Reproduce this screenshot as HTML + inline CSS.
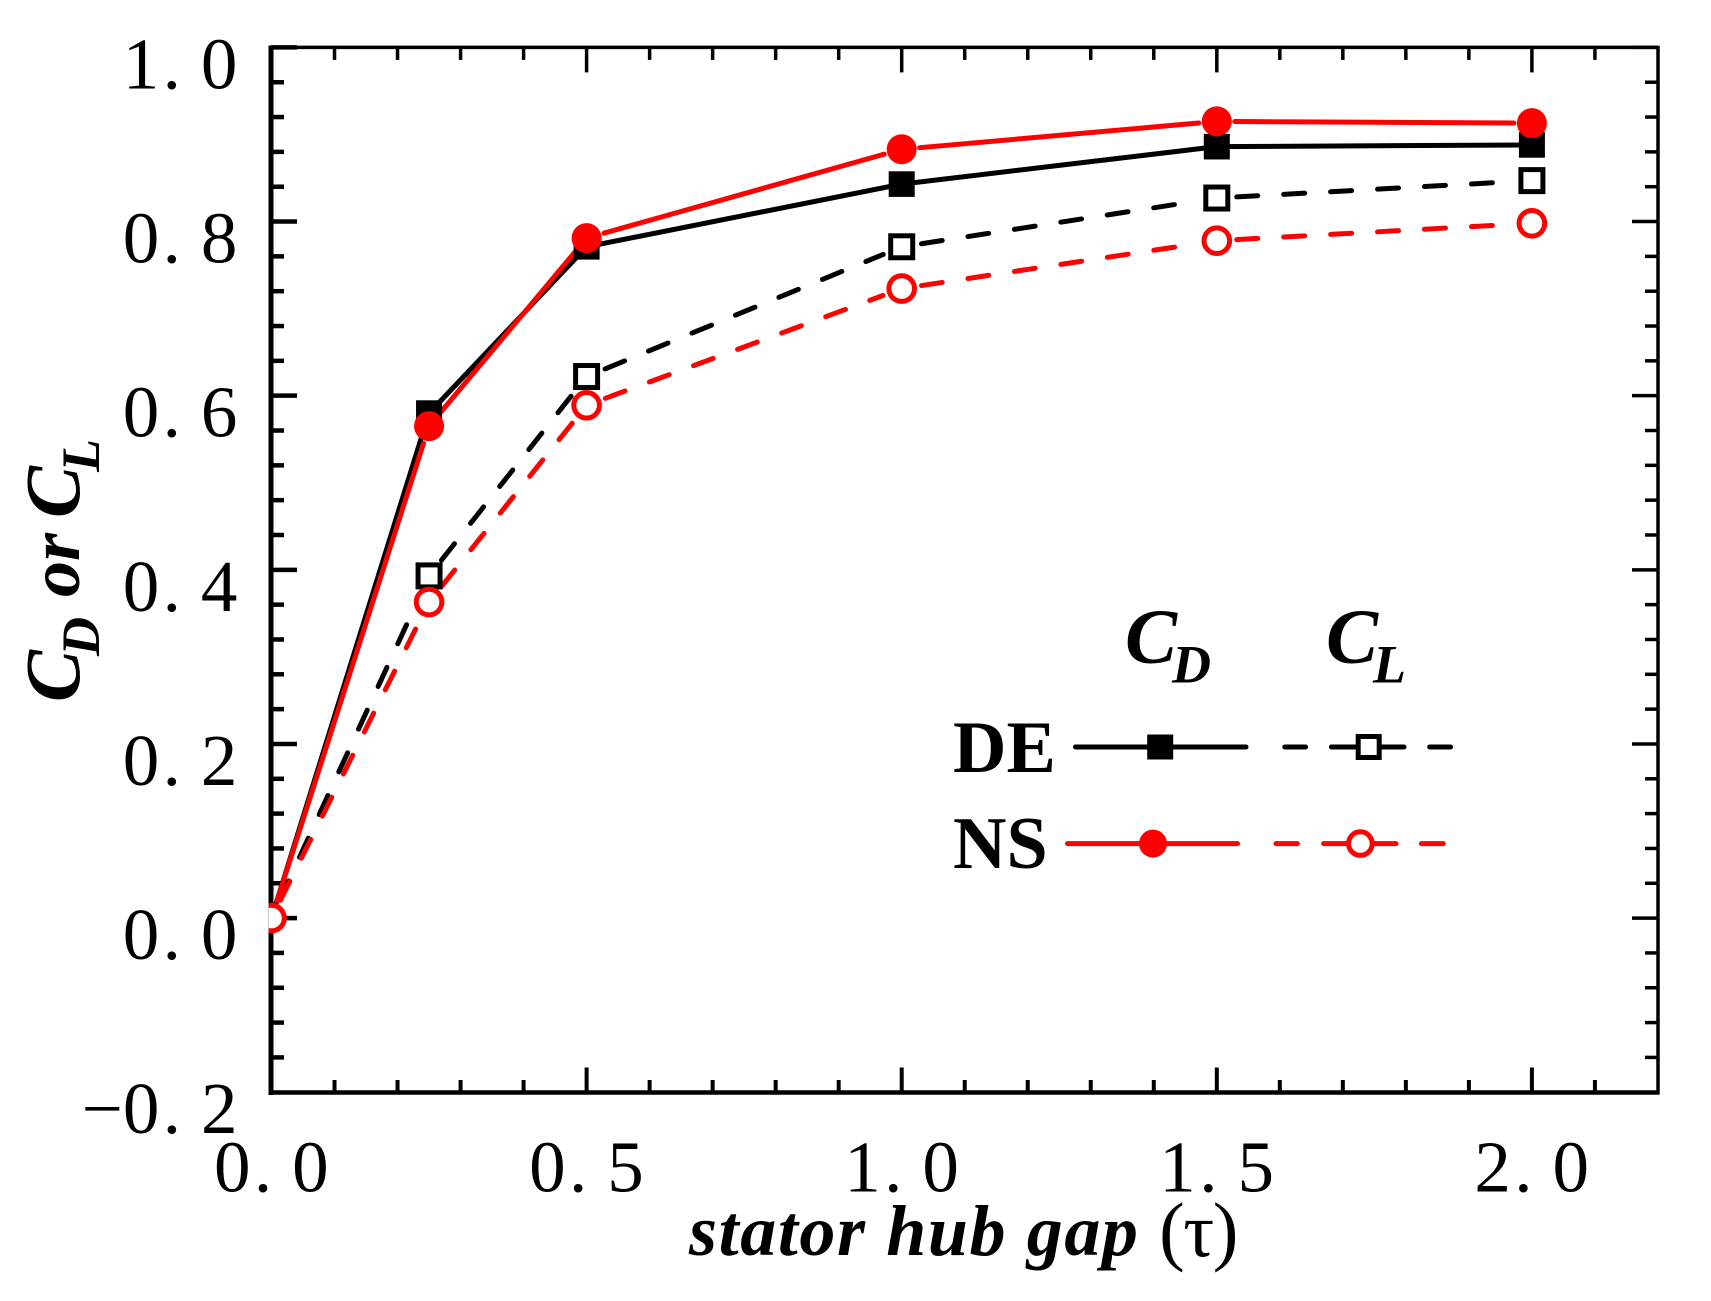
<!DOCTYPE html>
<html lang="en">
<head>
<meta charset="utf-8">
<title>Stator hub gap chart</title>
<style>
html,body{margin:0;padding:0;background:#fff;}
svg{display:block;}
text{font-family:"Liberation Serif",serif;fill:#000;}
.bi{font-weight:bold;font-style:italic;}
</style>
</head>
<body>
<svg id="chart" xmlns="http://www.w3.org/2000/svg" width="1711" height="1301" viewBox="0 0 1711 1301">
  <rect x="0" y="0" width="1711" height="1301" fill="#fff"/>
  <defs>
    <clipPath id="plot-clip"><rect x="268.7" y="40" width="1395" height="1060"/></clipPath>
  </defs>
  <g id="ticks"></g>
  <g stroke="#000" fill="none">
    <line x1="271" y1="45.5" x2="271" y2="1095" stroke-width="5"/>
    <line x1="270" y1="1092.5" x2="1659.5" y2="1092.5" stroke-width="4.5"/>
    <line x1="271" y1="47.4" x2="1659.5" y2="47.4" stroke-width="3.5"/>
    <line x1="1658" y1="46" x2="1658" y2="1094" stroke-width="3.5"/>
  </g>
  <g id="series" clip-path="url(#plot-clip)"></g>
  <g id="labels" font-size="73"></g>

  <text x="689" y="1255" font-size="72"><tspan class="bi" letter-spacing="1.6">stator hub gap </tspan><tspan font-size="77" dy="1" letter-spacing="-1.5">(τ)</tspan></text>
  <text class="bi" font-size="72" transform="translate(79,702) rotate(-90)"><tspan font-size="78">C</tspan><tspan font-size="54" dy="20" dx="-6">D</tspan><tspan dy="-20" dx="2"> or </tspan><tspan font-size="78" dx="-3">C</tspan><tspan font-size="54" dy="20" dx="-6">L</tspan></text>

  <g>
    <text class="bi" x="1125" y="662.5" font-size="78">C<tspan font-size="54" dy="20" dx="-5">D</tspan></text>
    <text class="bi" x="1326" y="662.5" font-size="78">C<tspan font-size="54" dy="20" dx="-5">L</tspan></text>
    <text x="953" y="772" font-size="74" font-weight="bold">DE</text>
    <text x="953" y="868" font-size="74" font-weight="bold">NS</text>
    <g>
      <line x1="1075.5" y1="747" x2="1246" y2="747" stroke="#000" stroke-width="5" stroke-linecap="round"/>
      <rect x="1147.2" y="734.5" width="26" height="25" fill="#000"/>
    </g>
    <g stroke="#000" stroke-width="5" stroke-linecap="round">
      <line x1="1284.8" y1="747" x2="1305.6" y2="747"/>
      <line x1="1331.4" y1="747" x2="1404" y2="747"/>
      <line x1="1429.7" y1="747" x2="1450.5" y2="747"/>
      <rect x="1358.2" y="736.5" width="21" height="21" fill="#fff" stroke-linecap="butt"/>
    </g>
    <g>
      <line x1="1067.5" y1="843.6" x2="1237.5" y2="843.6" stroke="#f00" stroke-width="5" stroke-linecap="round"/>
      <circle cx="1153" cy="843.6" r="14" fill="#f00"/>
    </g>
    <g stroke="#f00" stroke-width="5" stroke-linecap="round">
      <line x1="1276" y1="843.6" x2="1297.4" y2="843.6"/>
      <line x1="1323.6" y1="843.6" x2="1396" y2="843.6"/>
      <line x1="1421.4" y1="843.6" x2="1443.3" y2="843.6"/>
      <circle cx="1360.4" cy="843.6" r="11.8" fill="#fff"/>
    </g>
  </g>
</svg>
<script>
const gaps = [0, 0.25, 0.5, 1, 1.5, 2];
const deCd = [0, 0.58, 0.771, 0.843, 0.886, 0.888];
const nsCd = [0, 0.565, 0.781, 0.883, 0.915, 0.913];
const deCl = [0, 0.393, 0.622, 0.771, 0.827, 0.847];
const nsCl = [0, 0.363, 0.589, 0.723, 0.778, 0.798];
const xTicks = [0, 0.5, 1, 1.5, 2];
const xTickLabels = ['0.0', '0.5', '1.0', '1.5', '2.0'];
const yTicks = [-0.2, 0, 0.2, 0.4, 0.6, 0.8, 1];
const yTickLabels = ['\u22120.2', '0.0', '0.2', '0.4', '0.6', '0.8', '1.0'];

const NS = 'http://www.w3.org/2000/svg';
function x(v) { return 271.5 + 630.2 * v; }
function y(v) { return 918.1 - 870.7 * v; }
function make(tag, attrs, parent) {
  const el = document.createElementNS(NS, tag);
  for (const k in attrs) el.setAttribute(k, attrs[k]);
  parent.appendChild(el);
  return el;
}

const tickGroup = document.getElementById('ticks');
for (let i = 0; i <= 22; i++) {
  const px = x(i * 0.1);
  const len = i % 5 === 0 ? 25 : 12.5;
  if (i === 0 || i === 22) continue;
  const b = make('line', { x1: px, y1: 1092.5, x2: px, y2: 1092.5 - len, stroke: '#000', 'stroke-width': 4 }, tickGroup);
  
  
  const t = make('line', { x1: px, y1: 47.4, x2: px, y2: 47.4 + len, stroke: '#000', 'stroke-width': 3.5 }, tickGroup);
  
  
}
for (let i = 0; i <= 30; i++) {
  const py = y(-0.2 + i * 0.04);
  const len = i % 5 === 0 ? 26 : 13;
  if (i === 0) continue;
  const l = make('line', { x1: 271, y1: py, x2: 271 + len, y2: py, stroke: '#000', 'stroke-width': 4.5 }, tickGroup);
  
  
  const r = make('line', { x1: 1658, y1: py, x2: 1658 - len, y2: py, stroke: '#000', 'stroke-width': 3.5 }, tickGroup);
  
  
}

const labelGroup = document.getElementById('labels');
xTicks.forEach(function (v, i) {
  const t = make('text', { x: x(v) - 57.5, y: 1191.5, dx: '0 3.4 20' }, labelGroup);
  
  
  t.textContent = xTickLabels[i];
});
yTicks.forEach(function (v, i) {
  const neg = v < 0;
  const t = make('text', { x: neg ? 122.7 - 41 : 122.7, y: y(v) + 41, dx: neg ? '0 0 3.4 20' : '0 3.4 20' }, labelGroup);
  
  
  t.textContent = yTickLabels[i];
});

const seriesGroup = document.getElementById('series');
function drawLine(name, vals, color, dashed, trim) {
  const g = make('g', {}, seriesGroup);
  
  
  for (let i = 0; i < vals.length - 1; i++) {
    const ax = x(gaps[i]), ay = y(vals[i]), bx = x(gaps[i + 1]), by = y(vals[i + 1]);
    const d = Math.hypot(bx - ax, by - ay);
    const ux = (bx - ax) / d, uy = (by - ay) / d;
    const attrs = {
      x1: ax + ux * trim, y1: ay + uy * trim,
      x2: bx - ux * trim, y2: by - uy * trim,
      stroke: color, 'stroke-width': 5, 'stroke-linecap': 'round', fill: 'none'
    };
    if (dashed) attrs['stroke-dasharray'] = '21 26';
    make('line', attrs, g);
  }
}
function drawSquares(name, vals, filled) {
  const g = make('g', {}, seriesGroup);
  
  
  vals.forEach(function (v, i) {
    if (i === 0) return;
    const px = x(gaps[i]), py = y(v);
    const s = filled
      ? make('rect', { x: px - 13, y: py - 12.8, width: 26, height: 25.6, fill: '#000' }, g)
      : make('rect', { x: px - 11, y: py - 11, width: 22, height: 22, fill: '#fff', stroke: '#000', 'stroke-width': 5 }, g);
    
    
  });
}
function drawCircles(name, vals, filled) {
  const g = make('g', {}, seriesGroup);
  
  
  vals.forEach(function (v, i) {
    if (i === 0 && filled) return;
    const px = x(gaps[i]), py = y(v);
    const c = filled
      ? make('circle', { cx: px, cy: py, r: 15, fill: '#f00' }, g)
      : make('circle', { cx: px, cy: py, r: 12.8, fill: '#fff', stroke: '#f00', 'stroke-width': 5 }, g);
    
    
  });
}
drawLine('de-cd', deCd, '#000', false, 0);
drawLine('de-cl', deCl, '#000', true, 20);
drawLine('ns-cd', nsCd, '#f00', false, 18);
drawLine('ns-cl', nsCl, '#f00', true, 20);
drawSquares('de-cd', deCd, true);
drawSquares('de-cl', deCl, false);
drawCircles('ns-cd', nsCd, true);
drawCircles('ns-cl', nsCl, false);
</script>
</body>
</html>
